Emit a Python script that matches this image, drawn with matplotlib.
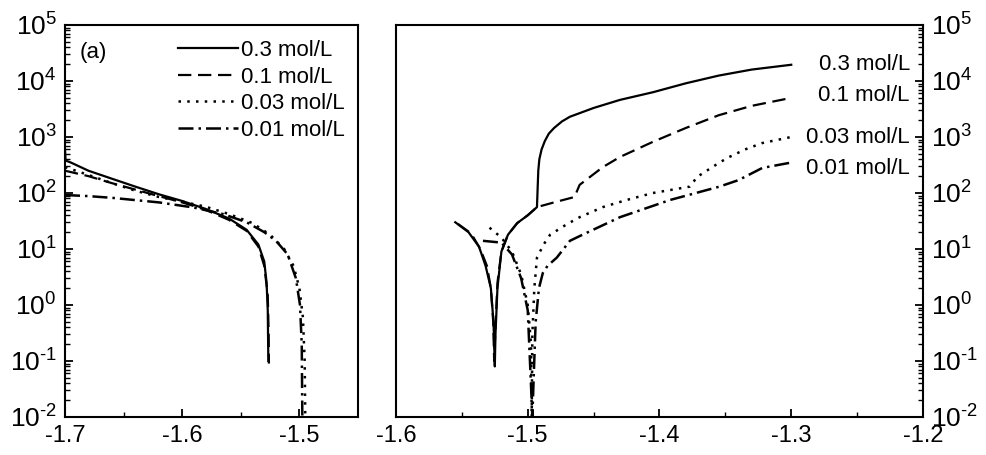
import numpy as np
import matplotlib
matplotlib.use("Agg")
import matplotlib.pyplot as plt
from matplotlib.ticker import LogLocator, NullFormatter, FixedLocator, FuncFormatter

plt.rcParams['font.family'] = ['Liberation Sans', 'DejaVu Sans']
plt.rcParams['mathtext.fontset'] = 'custom'
plt.rcParams['mathtext.rm'] = 'Liberation Sans'
plt.rcParams['mathtext.it'] = 'Liberation Sans'
plt.rcParams['mathtext.bf'] = 'Liberation Sans'
plt.rcParams['axes.unicode_minus'] = False

labels = ["0.3 mol/L", "0.1 mol/L", "0.03 mol/L", "0.01 mol/L"]

# ---- left panel (cathodic branches) ----
cat_E_03 = [-1.7, -1.6995, -1.695, -1.68, -1.66, -1.64, -1.62, -1.6, -1.58, -1.56, -1.545, -1.535, -1.53, -1.528, -1.527, -1.5265]
cat_i_03 = [600, 380, 350, 250, 180, 130, 95, 72, 52, 35, 22, 12, 6, 2.5, 0.8, 0.1]
cat_E_01 = [-1.7, -1.68, -1.66, -1.64, -1.62, -1.6, -1.58, -1.56, -1.545, -1.535, -1.53, -1.527, -1.5262, -1.526]
cat_i_01 = [250, 200, 150, 115, 88, 68, 50, 33, 21, 11, 5, 1.5, 0.3, 0.09]
cat_E_003 = [-1.7, -1.68, -1.66, -1.64, -1.62, -1.6, -1.58, -1.56, -1.54, -1.525, -1.513, -1.505, -1.5, -1.497, -1.4955, -1.495]
cat_i_003 = [290, 210, 150, 110, 85, 70, 57, 42, 29, 18, 10, 5, 2, 0.6, 0.1, 0.01]
cat_E_001 = [-1.7, -1.68, -1.66, -1.62, -1.59, -1.565, -1.545, -1.53, -1.52, -1.51, -1.503, -1.4995, -1.498, -1.4975]
cat_i_001 = [92, 88, 82, 68, 55, 42, 30, 20, 14, 8, 3, 1, 0.2, 0.01]

# ---- right panel (anodic branches) ----
an_E_03 = [-1.555, -1.545, -1.537, -1.532, -1.528, -1.526, -1.525, -1.5245, -1.523, -1.52, -1.515, -1.508, -1.5, -1.493,
           -1.4925, -1.492, -1.4912, -1.4895, -1.487, -1.484, -1.48, -1.474, -1.468, -1.46, -1.45, -1.43, -1.405, -1.38, -1.355, -1.33, -1.3]
an_i_03 = [30, 20, 11, 5, 2, 0.5, 0.08, 0.3, 2, 9, 18, 29, 40, 56,
           120, 250, 400, 600, 850, 1150, 1450, 1900, 2300, 2700, 3300, 4600, 6300, 9100, 12500, 16000, 19500]
an_E_01 = [-1.553, -1.543, -1.536, -1.531, -1.528, -1.5262, -1.5255, -1.5245, -1.523, -1.52, -1.515, -1.508, -1.5, -1.493,
           -1.48, -1.4644, -1.4625, -1.4606, -1.443, -1.43, -1.405, -1.38, -1.355, -1.33, -1.3]
an_i_01 = [28, 19, 10, 5, 2, 0.5, 0.1, 0.4, 2.5, 9, 18, 29, 40, 56,
           68, 85, 110, 140, 290, 440, 820, 1450, 2450, 3600, 5000]
an_E_003 = [-1.529, -1.52, -1.512, -1.505, -1.5, -1.4975, -1.497, -1.4965, -1.495, -1.493, -1.488, -1.483, -1.47, -1.4606,
            -1.443, -1.425, -1.405, -1.39, -1.377, -1.374, -1.372, -1.3545, -1.347, -1.335, -1.322, -1.3]
an_i_003 = [24, 16, 9, 3.5, 1, 0.2, 0.01, 0.3, 2, 7, 12, 18, 28, 37,
            56, 75, 100, 115, 130, 160, 190, 350, 440, 600, 780, 1000]
an_E_001 = [-1.534, -1.52, -1.512, -1.505, -1.5, -1.4965, -1.4955, -1.494, -1.4915, -1.4886, -1.485, -1.478, -1.468, -1.4606,
            -1.43, -1.392, -1.3545, -1.34, -1.322, -1.3]
an_i_001 = [14, 13, 8, 3, 0.8, 0.01, 0.05, 0.5, 2, 3.7, 5, 7, 14, 17,
            37, 75, 130, 170, 280, 350]

styles = ['-', (0, (6, 3)), (0, (1, 2.5)), (0, (6, 2, 1, 2))]
widths = [1.6, 1.6, 1.8, 1.8]

fig = plt.figure(figsize=(9.86, 4.55), dpi=100)
axL = fig.add_axes([65/986, 1-417/455, (358-65)/986, 392/455])
axR = fig.add_axes([396/986, 1-417/455, (923-396)/986, 392/455])

cat = [(cat_E_03, cat_i_03), (cat_E_01, cat_i_01), (cat_E_003, cat_i_003), (cat_E_001, cat_i_001)]
an = [(an_E_03, an_i_03), (an_E_01, an_i_01), (an_E_003, an_i_003), (an_E_001, an_i_001)]

for (E, i), ls, lw, lab in zip(cat, styles, widths, labels):
    axL.plot(E, i, color='black', linestyle=ls, linewidth=lw, label=lab)
for (E, i), ls, lw in zip(an, styles, widths):
    axR.plot(E, i, color='black', linestyle=ls, linewidth=lw)

def fmt(v, pos):
    n = int(round(np.log10(v)))
    if n < 0:
        return r'$\mathregular{10^{\text{-}%d}}$' % (-n)
    return r'$\mathregular{10^{%d}}$' % n

for ax in (axL, axR):
    ax.set_yscale('log')
    ax.set_ylim(1e-2, 1e5)
    ax.yaxis.set_major_locator(LogLocator(base=10, numticks=20))
    ax.yaxis.set_minor_locator(LogLocator(base=10, subs=np.arange(2, 10), numticks=100))
    ax.yaxis.set_minor_formatter(NullFormatter())
    ax.yaxis.set_major_formatter(FuncFormatter(fmt))
    for s in ax.spines.values():
        s.set_linewidth(1.5)
    ax.tick_params(which='major', direction='in', length=6, width=1.3, labelsize=19, pad=6)
    ax.tick_params(which='minor', direction='in', length=3.5, width=1.0)
    ax.tick_params(axis='x', labelsize=17, pad=6)

axL.set_xlim(-1.7, -1.45)
axL.xaxis.set_major_locator(FixedLocator([-1.7, -1.6, -1.5]))
axL.xaxis.set_minor_locator(FixedLocator([-1.65, -1.55]))
axL.xaxis.set_major_formatter(FuncFormatter(lambda v, p: '%.1f' % v))

axR.set_xlim(-1.6, -1.2)
axR.xaxis.set_major_locator(FixedLocator([-1.6, -1.5, -1.4, -1.3, -1.2]))
axR.xaxis.set_minor_locator(FixedLocator([-1.55, -1.45, -1.35, -1.25]))
axR.xaxis.set_major_formatter(FuncFormatter(lambda v, p: '%.1f' % v))
axR.yaxis.tick_right()
axR.yaxis.set_label_position('right')

axL.text(0.051, 0.931, '(a)', transform=axL.transAxes, fontsize=16, ha='left', va='center')
leg = axL.legend(loc='upper left', bbox_to_anchor=(178/986, 1-40/455), bbox_transform=fig.transFigure,
                 frameon=False, fontsize=16, handlelength=2.7, handletextpad=0.15,
                 labelspacing=0.25, borderpad=0, borderaxespad=0)

ylab = [0.898, 0.821, 0.714, 0.635]
for lab, yy in zip(labels, ylab):
    axR.text(0.975, yy, lab, transform=axR.transAxes, fontsize=16, ha='right', va='center')

fig.savefig('out.png', dpi=100)
